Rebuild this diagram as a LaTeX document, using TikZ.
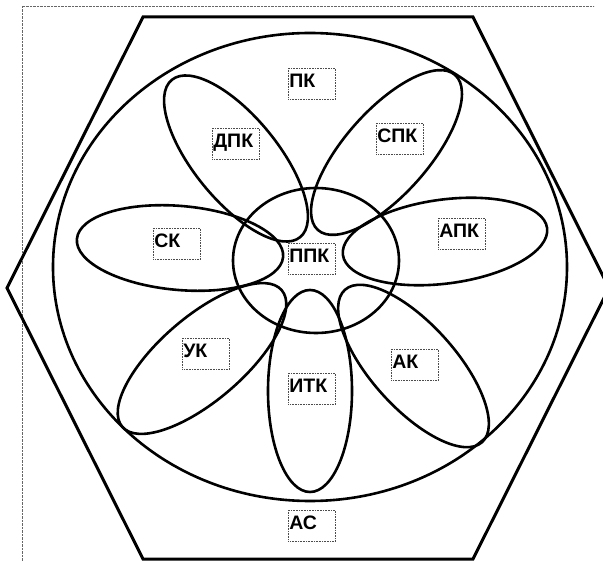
\documentclass[tikz,border=0pt]{standalone}
\usepackage{fontspec}
\setmainfont{Liberation Sans}
\usetikzlibrary{shapes.geometric}
\begin{document}
\begin{tikzpicture}[x=1pt,y=-1pt,
  outline/.style={draw=black, line width=2.6pt},
  petal/.style={outline, ellipse, inner sep=0pt, minimum width=205pt, minimum height=84pt},
  lbl/.style={draw=black!70, dash pattern=on 0.8pt off 0.8pt, line width=0.7pt,
    anchor=north west, inner xsep=1pt, inner ysep=0pt, text width=45pt, align=left,
    minimum height=31pt, text height=19pt, text depth=12pt,
    font=\bfseries\fontsize{19.5}{20}\selectfont},
  frame/.style={draw=black!60, dash pattern=on 0.7pt off 0.7pt, line width=0.7pt}]
\useasboundingbox (0,0) rectangle (603,561);
\clip (0,0) rectangle (603,561);

% dotted page frame
\draw[frame] (22,561) -- (22,6) -- (594,6);

% outer hexagon
\draw[black, line width=3pt, line join=miter]
  (7,288) -- (143,17) -- (473,17) -- (609,288) -- (473,559) -- (143,559) -- cycle;

% large circle
\node[outline, ellipse, inner sep=0pt, minimum width=514pt, minimum height=468pt] (big) at (310,267) {};

% petals
\node[petal, minimum width=203pt, rotate=-50.8] (pdpk) at (236,158.5) {};
\node[petal, minimum width=207pt, rotate=48.5]  (pspk) at (386.5,152.5) {};
\node[petal, minimum width=207pt, rotate=-5]    (psk)  at (180,248) {};
\node[petal, minimum width=206pt, rotate=7.5]   (papk) at (445,241.5) {};
\node[petal, minimum width=205pt, rotate=-48]   (pak)  at (413.5,366) {};
\node[petal, minimum width=210pt, rotate=40.6]  (puk)  at (202,358.5) {};
\node[petal, minimum width=202pt, rotate=90]    (pitk) at (310,391) {};

% inner circle
\node[outline, ellipse, inner sep=0pt, minimum width=166pt, minimum height=145pt] (core) at (316,260.5) {};

% labels
\node[lbl] (lpk)  at (288,68)  {ПК};
\node[lbl] (ldpk) at (212,128) {ДПК};
\node[lbl] (lspk) at (376,123) {СПК};
\node[lbl] (lapk) at (438,218) {АПК};
\node[lbl] (lsk)  at (153,228) {СК};
\node[lbl] (lppk) at (288,243) {ППК};
\node[lbl] (luk)  at (182,338) {УК};
\node[lbl] (lak)  at (391,349) {АК};
\node[lbl] (litk) at (288,373) {ИТК};
\node[lbl] (las)  at (288,510) {АС};
\end{tikzpicture}
\end{document}
